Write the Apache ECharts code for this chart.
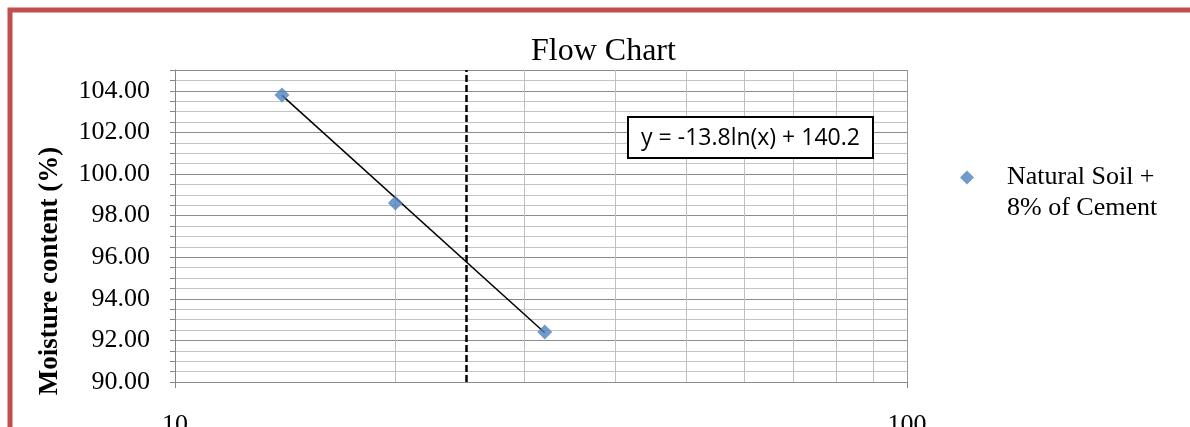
<!DOCTYPE html>
<html>
<head>
<meta charset="utf-8">
<script src="https://cdn.jsdelivr.net/npm/echarts@6/dist/echarts.min.js"></script>
<style>
  html, body { margin: 0; padding: 0; background: #ffffff; }
  #chart { width: 1190px; height: 427px; }
</style>
</head>
<body>
<div id="chart"></div>
<script>
// ---- data ----
const chartTitle = 'Flow Chart';
const yAxisTitle = 'Moisture content (%)';
const seriesName = 'Natural Soil + 8% of Cement';
const legendLines = ['Natural Soil +', '8% of Cement'];
const blowCounts = [14, 20, 32];            // x (log scale)
const moistureContent = [103.8, 98.6, 92.4]; // y (%)
const trendX = [14, 32];
const trendY = [103.78, 92.37];
const minorGridX = [20, 30, 40, 50, 60, 70, 80, 90];
const referenceX = [25];
const equationText = 'y = -13.8ln(x) + 140.2';

const serif = 'Liberation Serif';
const chart = echarts.init(document.getElementById('chart'), null, { renderer: 'canvas' });

const points = blowCounts.map((x, i) => [x, moistureContent[i]]);
const trend = trendX.map((x, i) => [x, trendY[i]]);

const markData = minorGridX.map(v => ({ xAxis: v, lineStyle: { color: '#bfbfbf', width: 1, type: 'solid' } }))
  .concat(referenceX.map(v => ({ xAxis: v, lineStyle: { color: '#000000', width: 2.5, type: [7, 3] } })));

chart.setOption({
  animation: false,
  backgroundColor: '#ffffff',
  title: {
    text: chartTitle,
    left: 531,
    top: 36,
    padding: 0,
    textStyle: { fontFamily: serif, fontSize: 32, fontWeight: 'normal', color: '#000000' }
  },
  grid: { left: 175, right: 283, top: 70, bottom: 45, containLabel: false, outerBoundsMode: 'none' },
  legend: {
    data: [seriesName],
    left: 960,
    top: 131,
    padding: 0,
    icon: 'diamond',
    itemWidth: 14,
    itemHeight: 14,
    formatter: () => ' \n' + legendLines.join('\n'),
    textStyle: { fontFamily: serif, fontSize: 26, color: '#000000', lineHeight: 31, padding: [0, 0, 0, 28] }
  },
  xAxis: {
    type: 'log',
    logBase: 10,
    min: 10,
    max: 100,
    axisLine: { show: true, lineStyle: { color: '#868686', width: 1 } },
    axisTick: { show: true, inside: false, length: 6, lineStyle: { color: '#868686' } },
    axisLabel: { margin: 30, fontFamily: serif, fontSize: 26, color: '#000000' },
    splitLine: { show: true, lineStyle: { color: '#9a9a9a', width: 1 } },
    minorTick: { show: false },
    minorSplitLine: { show: false }
  },
  yAxis: [
    {
      type: 'value',
      min: 90,
      max: 105,
      interval: 2,
      z: 1,
      name: yAxisTitle,
      nameLocation: 'middle',
      nameRotate: 90,
      nameGap: 111,
      nameTextStyle: { fontFamily: serif, fontSize: 27, fontWeight: 'bold', color: '#000000', padding: [0, 90, 0, 0] },
      axisLine: { show: true, lineStyle: { color: '#868686', width: 1 } },
      axisTick: { show: false },
      axisLabel: {
        margin: 25,
        showMaxLabel: false,
        fontFamily: serif,
        fontSize: 26,
        color: '#000000',
        formatter: v => v.toFixed(2)
      },
      splitLine: { show: true, lineStyle: { color: '#8c8c8c', width: 1 } }
    },
    {
      type: 'value',
      min: 90,
      max: 105,
      interval: 0.5,
      position: 'left',
      z: 0,
      axisLine: { show: false },
      axisTick: { show: true, inside: false, length: 5, lineStyle: { color: '#868686' } },
      axisLabel: { show: false },
      splitLine: { show: true, lineStyle: { color: '#c4c4c4', width: 1 } }
    }
  ],
  series: [
    {
      name: seriesName,
      type: 'scatter',
      yAxisIndex: 0,
      data: points,
      symbol: 'diamond',
      symbolSize: 15,
      itemStyle: { color: '#4f81bd' },
      z: 5,
      markLine: {
        silent: true,
        symbol: ['none', 'none'],
        label: { show: false },
        z: 1,
        data: markData
      }
    },
    {
      name: 'Trendline',
      type: 'line',
      yAxisIndex: 0,
      data: trend,
      symbol: 'none',
      lineStyle: { color: '#000000', width: 1.5 },
      z: 4
    }
  ],
  graphic: [
    {
      type: 'rect',
      z: 100,
      shape: { x: 10, y: 10, width: 1300, height: 500 },
      style: { fill: 'none', stroke: '#c0504d', lineWidth: 5 }
    },
    {
      type: 'rect',
      z: 50,
      shape: { x: 628, y: 117, width: 245, height: 41 },
      style: { fill: '#ffffff', stroke: '#000000', lineWidth: 2 }
    },
    {
      type: 'text',
      z: 51,
      x: 750.5,
      y: 138,
      style: {
        text: equationText,
        fill: '#000000',
        font: '23px "Open Sans"',
        align: 'center',
        verticalAlign: 'middle'
      }
    }
  ]
});
</script>
</body>
</html>
